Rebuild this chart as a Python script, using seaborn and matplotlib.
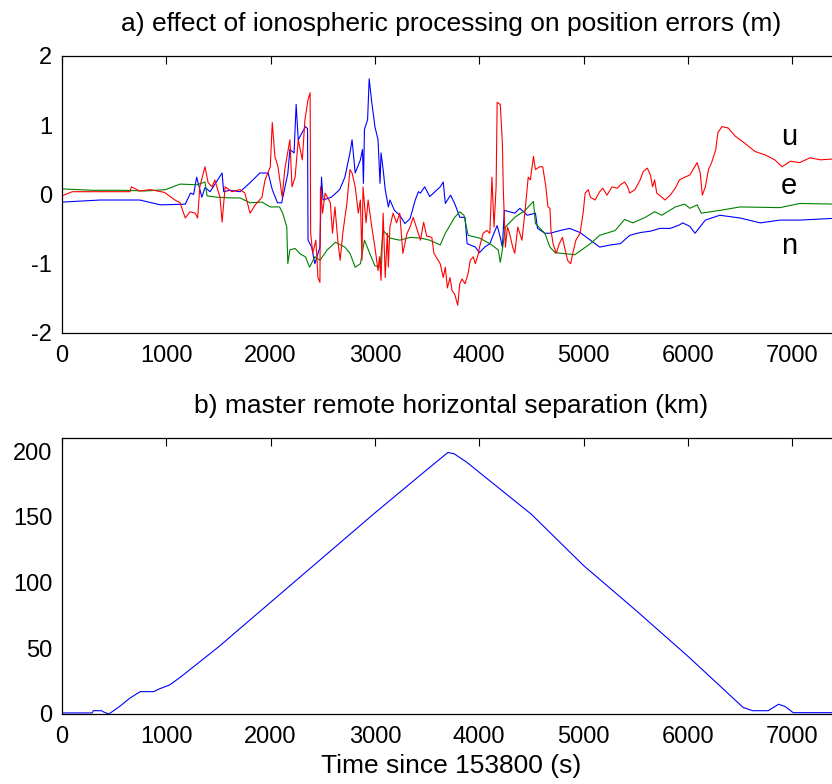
import matplotlib
matplotlib.use('Agg')
import matplotlib.pyplot as plt
import seaborn as sns

# a) position error differences (m) -- north, east, up
t_n = [0, 368, 745, 944, 1182, 1232, 1262, 1291, 1341, 1371,
       1420, 1535, 1550, 1609, 1708, 1803, 1897, 1977, 2016, 2066,
       2106, 2165, 2185, 2225, 2245, 2265, 2334, 2354, 2359, 2394,
       2424, 2473, 2488, 2503, 2583, 2662, 2712, 2761, 2781, 2811,
       2861, 2881, 2890, 2900, 2930, 2945, 2970, 3000, 3030, 3049,
       3059, 3079, 3099, 3129, 3144, 3188, 3238, 3288, 3337, 3387,
       3417, 3437, 3477, 3526, 3626, 3655, 3675, 3725, 3765, 3814,
       3864, 3884, 3963, 4003, 4053, 4102, 4152, 4172, 4202, 4222,
       4241, 4291, 4341, 4390, 4460, 4539, 4559, 4629, 4678, 4778,
       4867, 4967, 5066, 5155, 5254, 5354, 5443, 5543, 5642, 5731,
       5831, 5920, 5950, 6019, 6069, 6168, 6307, 6501, 6695, 6884,
       7072, 7460]
n_err = [-0.11, -0.08, -0.08, -0.15, -0.14, 0.02, 0.0, 0.25, -0.04, 0.1,
         0.04, 0.31, 0.04, 0.06, 0.04, 0.17, 0.31, 0.31, 0.07, -0.12,
         -0.12, 0.3, 0.65, 0.6, 1.3, 0.79, 0.98, 0.95, -0.66, -0.76,
         -1.0, -0.76, 0.25, -0.08, -0.04, 0.07, 0.25, 0.6, 0.79, 0.31,
         0.5, 0.65, 0.16, 0.94, 1.08, 1.67, 1.33, 0.98, 0.79, 0.16,
         0.6, 0.36, 0.07, -0.18, -0.08, -0.23, -0.3, -0.42, -0.35, -0.08,
         0.04, 0.02, 0.11, -0.03, 0.11, 0.18, -0.13, -0.01, -0.13, -0.33,
         -0.33, -0.71, -0.76, -0.84, -0.76, -0.71, -0.52, -0.45, -0.62, -0.76,
         -0.23, -0.25, -0.27, -0.2, -0.3, -0.27, -0.49, -0.56, -0.56, -0.52,
         -0.49, -0.55, -0.66, -0.76, -0.73, -0.71, -0.59, -0.55, -0.53, -0.49,
         -0.49, -0.44, -0.41, -0.46, -0.56, -0.37, -0.3, -0.34, -0.41, -0.37,
         -0.37, -0.34]

t_e = [0, 298, 596, 795, 993, 1132, 1291, 1371, 1391, 1490,
       1629, 1708, 1803, 1917, 1997, 2086, 2116, 2155, 2165, 2185,
       2235, 2285, 2334, 2374, 2424, 2473, 2543, 2622, 2712, 2761,
       2811, 2861, 2900, 2950, 3000, 3049, 3079, 3144, 3238, 3337,
       3437, 3526, 3626, 3675, 3765, 3814, 3854, 3894, 4003, 4102,
       4182, 4202, 4222, 4251, 4341, 4440, 4520, 4539, 4629, 4678,
       4728, 4917, 5066, 5155, 5304, 5394, 5473, 5592, 5682, 5751,
       5880, 5970, 6019, 6089, 6129, 6307, 6501, 6884, 7072, 7460]
e_err = [0.08, 0.06, 0.06, 0.05, 0.07, 0.15, 0.14, 0.18, -0.02, -0.04,
         -0.05, -0.05, -0.12, -0.11, -0.18, -0.18, -0.27, -0.47, -1.0, -0.8,
         -0.78, -0.86, -0.9, -1.05, -0.9, -0.95, -0.8, -0.69, -0.76, -0.85,
         -1.05, -1.0, -0.66, -0.85, -1.03, -1.05, -0.52, -0.63, -0.66, -0.62,
         -0.63, -0.66, -0.73, -0.56, -0.33, -0.25, -0.3, -0.59, -0.63, -0.71,
         -0.8, -0.98, -0.8, -0.47, -0.33, -0.23, -0.1, -0.42, -0.56, -0.76,
         -0.84, -0.87, -0.71, -0.59, -0.52, -0.36, -0.41, -0.33, -0.25, -0.3,
         -0.18, -0.14, -0.2, -0.15, -0.27, -0.23, -0.18, -0.19, -0.13, -0.14]

t_u = [0, 99, 368, 651, 666, 745, 844, 983, 1083, 1132,
       1182, 1227, 1276, 1301, 1321, 1371, 1401, 1440, 1465, 1515,
       1535, 1564, 1629, 1708, 1753, 1803, 1853, 1917, 1947, 1997,
       2016, 2041, 2071, 2111, 2136, 2185, 2205, 2235, 2265, 2304,
       2329, 2359, 2379, 2384, 2404, 2434, 2454, 2473, 2478, 2498,
       2523, 2573, 2593, 2617, 2647, 2667, 2692, 2732, 2761, 2781,
       2811, 2841, 2861, 2876, 2886, 2915, 2935, 2970, 3000, 3030,
       3044, 3059, 3079, 3099, 3119, 3129, 3144, 3174, 3208, 3238,
       3268, 3308, 3337, 3367, 3407, 3437, 3467, 3496, 3546, 3566,
       3626, 3655, 3675, 3695, 3720, 3740, 3765, 3794, 3814, 3834,
       3864, 3894, 3914, 3943, 3963, 3993, 4003, 4038, 4073, 4102,
       4122, 4142, 4162, 4172, 4202, 4222, 4231, 4251, 4271, 4291,
       4321, 4341, 4370, 4410, 4440, 4470, 4490, 4520, 4539, 4579,
       4609, 4639, 4659, 4678, 4688, 4708, 4738, 4768, 4798, 4818,
       4847, 4877, 4897, 4927, 4967, 4996, 5016, 5046, 5066, 5111,
       5155, 5185, 5225, 5274, 5324, 5354, 5394, 5423, 5443, 5493,
       5543, 5572, 5612, 5642, 5662, 5682, 5702, 5751, 5781, 5831,
       5880, 5920, 5970, 6019, 6089, 6119, 6139, 6168, 6198, 6228,
       6268, 6288, 6327, 6387, 6456, 6546, 6645, 6744, 6834, 6903,
       6983, 7072, 7172, 7271, 7460]
u_err = [-0.02, 0.04, 0.04, 0.04, 0.11, 0.05, 0.07, 0.03, -0.08, -0.12,
         -0.34, -0.25, -0.27, -0.34, 0.11, 0.4, 0.17, 0.11, 0.21, -0.04,
         -0.4, 0.11, 0.04, 0.07, 0.02, -0.27, -0.15, -0.04, 0.21, 0.4,
         1.04, 0.55, 0.4, -0.04, 0.36, 0.79, 0.11, 0.25, 0.79, 0.5,
         1.08, 1.37, 1.47, -0.56, -0.85, -0.66, -1.2, -1.27, 0.11, -0.27,
         0.02, -0.12, -0.56, -0.18, -0.71, -0.95, -0.56, -0.12, 0.36, 0.31,
         0.11, -0.27, -0.08, -0.95, 0.11, -0.41, -0.08, -0.47, -0.76, -1.1,
         -0.9, -1.24, -0.27, -1.2, -0.56, -1.05, -0.47, -0.27, -0.41, -0.27,
         -0.85, -0.56, -0.47, -0.33, -0.52, -0.66, -0.4, -0.6, -0.62, -0.85,
         -1.0, -1.2, -1.05, -1.35, -1.2, -1.39, -1.44, -1.6, -1.29, -1.22,
         -1.29, -1.14, -0.95, -0.9, -1.0, -0.85, -0.76, -0.56, -0.52, -0.56,
         0.25, -0.47, 0.11, 1.33, 1.3, 0.74, 0.07, -0.76, -0.47, -0.56,
         -0.76, -0.85, -0.47, -0.66, -0.23, 0.25, 0.21, 0.55, 0.36, 0.4,
         0.4, 0.11, -0.18, -0.2, -0.52, -0.71, -0.85, -0.71, -0.62, -0.76,
         -0.95, -1.0, -0.85, -0.66, -0.56, -0.27, 0.02, 0.07, -0.04, -0.08,
         0.04, 0.09, -0.01, 0.11, 0.09, 0.14, 0.18, 0.11, 0.02, 0.07,
         0.21, 0.33, 0.38, 0.28, 0.11, 0.21, 0.02, -0.04, -0.08, -0.01,
         0.09, 0.21, 0.25, 0.28, 0.46, 0.31, -0.01, 0.11, 0.36, 0.46,
         0.65, 0.89, 0.98, 0.96, 0.84, 0.74, 0.62, 0.57, 0.5, 0.4,
         0.48, 0.46, 0.53, 0.5, 0.52]

# b) master-remote horizontal separation (km)
t_sep = [0, 290, 300, 380, 400, 450, 550, 650, 750, 880,
         930, 1030, 1135, 1500, 2000, 2500, 3000, 3500, 3700, 3760,
         3880, 4500, 5000, 5500, 6000, 6530, 6620, 6770, 6870, 6935,
         7010, 7460]
sep_km = [0.8, 0.8, 2.5, 2.5, 1.5, 0, 5.6, 12, 17, 17,
          19, 22, 28, 51, 85, 119, 153, 186, 199, 198,
          191.6, 152, 113, 79, 44, 5, 2.5, 2.5, 7.4, 5.6,
          1, 1]

x_ticks = [0, 1000, 2000, 3000, 4000, 5000, 6000, 7000]
err_ticks = [-2, -1, 0, 1, 2]
sep_ticks = [0, 50, 100, 150, 200]

sns.set_style('white')
plt.rcParams['font.family'] = ['Liberation Sans', 'DejaVu Sans']
plt.rcParams['axes.unicode_minus'] = False
plt.rcParams['text.color'] = 'black'
plt.rcParams['axes.labelcolor'] = 'black'

fig = plt.figure(figsize=(8.32, 7.84), dpi=100)
ax1 = fig.add_axes([0.0745, 0.5753, 0.9355, 0.3533])
ax2 = fig.add_axes([0.0745, 0.0893, 0.9355, 0.352])

lw = 0.8
sns.lineplot(x=t_n, y=n_err, ax=ax1, color='#0000ff', linewidth=lw, estimator=None, sort=False)
sns.lineplot(x=t_e, y=e_err, ax=ax1, color='#008000', linewidth=lw, estimator=None, sort=False)
sns.lineplot(x=t_u, y=u_err, ax=ax1, color='#ff0000', linewidth=lw, estimator=None, sort=False)
sns.lineplot(x=t_sep, y=sep_km, ax=ax2, color='#0000ff', linewidth=lw, estimator=None, sort=False)

# component labels at the right end
ax1.text(6970, 0.72, 'u', ha='center', va='baseline', fontsize=21, color='black')
ax1.text(6970, 0.01, 'e', ha='center', va='baseline', fontsize=21, color='black')
ax1.text(6970, -0.855, 'n', ha='center', va='baseline', fontsize=21, color='black')

ax1.set_ylim(-2, 2)
ax1.set_yticks(err_ticks)
ax2.set_ylim(0, 210)
ax2.set_yticks(sep_ticks)

for ax in (ax1, ax2):
    ax.set_xlim(0, 7462)
    ax.set_xticks(x_ticks)
    ax.set_xlabel('')
    ax.set_ylabel('')
    ax.tick_params(direction='in', length=6, width=0.8, top=True, right=True,
                   labelsize=17, colors='black')
    ax.tick_params(axis='x', pad=9)
    ax.tick_params(axis='y', pad=7)
    for s in ax.spines.values():
        s.set_visible(True)
        s.set_color('black')
        s.set_linewidth(0.9)

ax1.set_title('a) effect of ionospheric processing on position errors (m)',
              fontsize=19, pad=18, color='black')
ax2.set_title('b) master remote horizontal separation (km)',
              fontsize=19, pad=18, color='black')
ax2.set_xlabel('Time since 153800 (s)', fontsize=19, labelpad=4, color='black')

fig.savefig('out.png', dpi=100)
